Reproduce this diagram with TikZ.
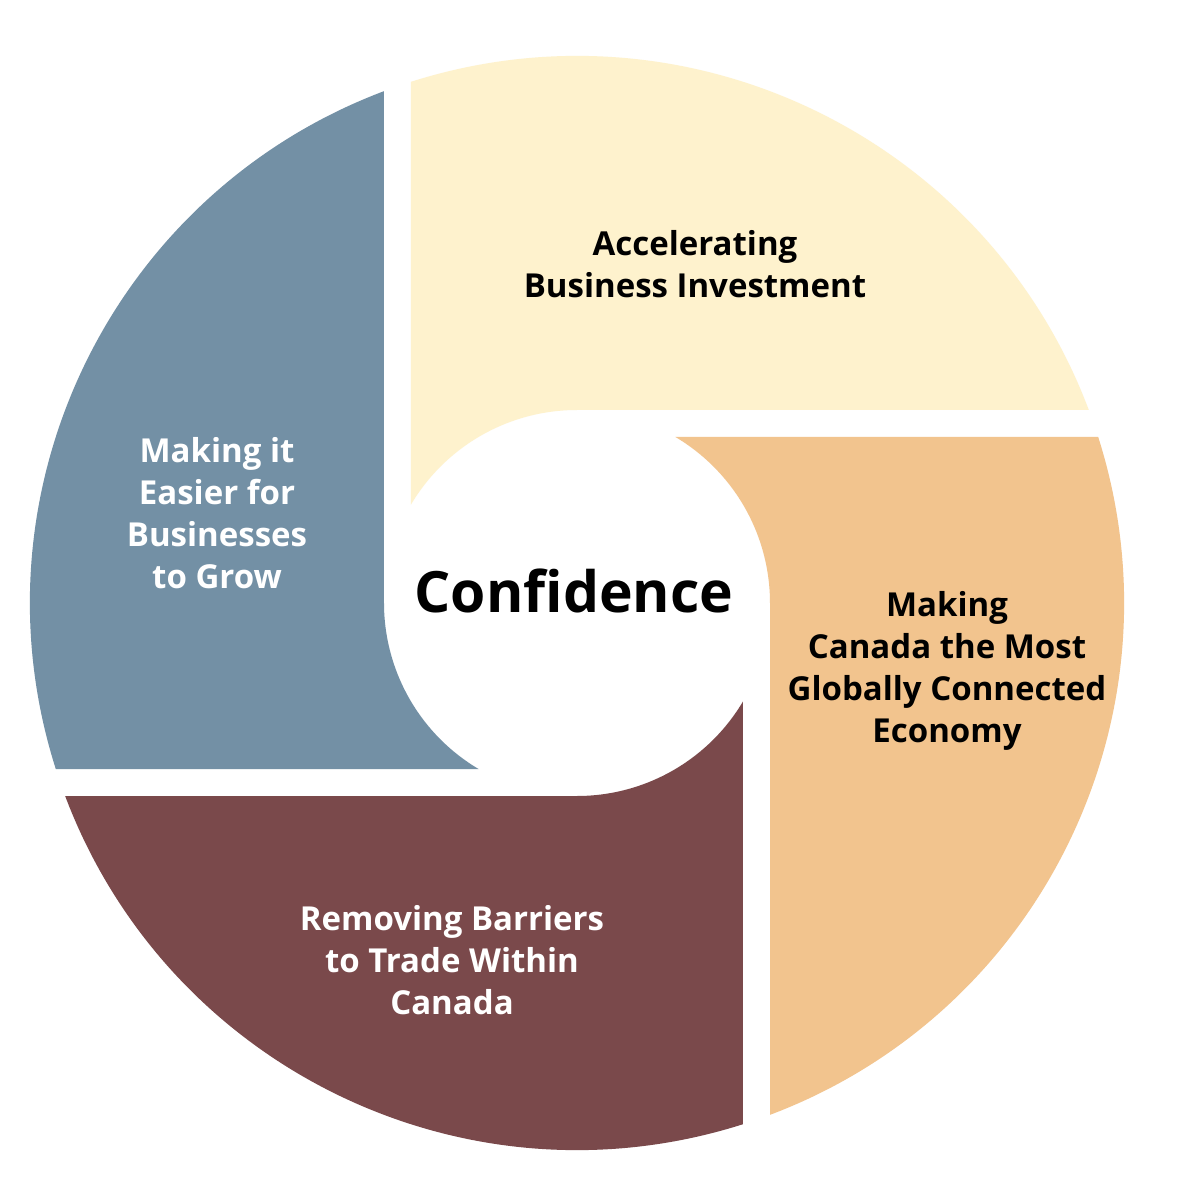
\documentclass[tikz,border=0pt]{standalone}
\usepackage{fontspec}
\setmainfont{Open Sans}
\usepackage{tikz}
\definecolor{butter}{RGB}{254, 242, 205}
\definecolor{apricot}{RGB}{242, 196, 142}
\definecolor{mulberry}{RGB}{122, 73, 75}
\definecolor{slateblue}{RGB}{115, 144, 165}
\tikzset{pillar/.style={font=\bfseries\fontsize{33}{42}\selectfont, align=center}}

\begin{document}
\begin{tikzpicture}[x=1pt, y=1pt]
            % Frame to ensure alignment:
            \useasboundingbox[fill=white]                                       (-577.00,-597.00) rectangle (623.00, 603.00);
            % Top segment
            \fill[butter]    (-166.00,  98.45) -- (-166.00, 521.20) arc (107.67:20.66:547) -- (   0.00, 193.00) arc (90:149.33:193) -- cycle;
            % Right segment
            \fill[apricot]   (  98.45, 166.00) -- ( 521.20, 166.00) arc (17.67:-69.34:547) -- ( 193.00,   0.00) arc (0:59.33:193) -- cycle;
            % Bottom segment
            \fill[mulberry]  ( 166.00, -98.45) -- ( 166.00,-521.20) arc (-72.33:-159.34:547) -- (   0.00,-193.00) arc (-90:-30.67:193) -- cycle;
            % Left segment
            \fill[slateblue] ( -98.45,-166.00) -- (-521.20,-166.00) arc (-162.33:-249.34:547) -- (-193.00,   0.00) arc (-180:-120.67:193) -- cycle;
            % Labels
            \node[pillar, text=black] (invest)  at ( 118.00, 339.00) {Accelerating\\Business Investment};
            \node[pillar, text=black] (connect) at ( 370.00, -68.00) {Making\\Canada the Most\\Globally Connected\\Economy};
            \node[pillar, text=white] (trade)   at (-125.00,-357.00) {Removing Barriers\\to Trade Within\\Canada};
            \node[pillar, text=white] (grow)    at (-360.00,  90.00) {Making it\\Easier for\\Businesses\\to Grow};
            \node[font=\bfseries\fontsize{57}{66}\selectfont] (core) at (-3.00, 12.00) {Confidence};
        \end{tikzpicture}
\end{document}
